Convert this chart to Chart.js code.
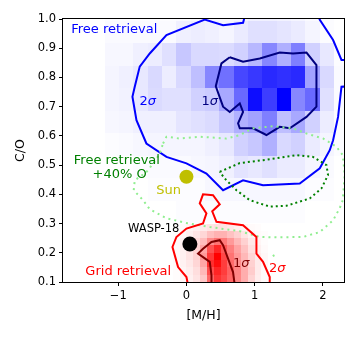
<!DOCTYPE html>
<html>
<head>
  <title>C/O vs [M/H]</title>
  <script src="https://cdn.jsdelivr.net/npm/chart.js"></script>
  <style>
    body { margin: 0; background: #fff; }
  </style>
</head>
<body>
<canvas id="chart" width="358" height="338"></canvas>
<script>
// tick positions
const xTicks = [-1, 0, 1, 2];
const yTicks = [0.1, 0.2, 0.3, 0.4, 0.5, 0.6, 0.7, 0.8, 0.9, 1.0];

// free retrieval posterior, 2D histogram (percent of peak)
const blueXEdges = [-1.197, -0.987, -0.777, -0.567, -0.357, -0.147, 0.063, 0.273, 0.483, 0.693, 0.903, 1.113, 1.323, 1.533, 1.743, 1.953, 2.163, 2.373];
const blueYEdges = [1.071, 0.994, 0.917, 0.840, 0.763, 0.686, 0.609, 0.532, 0.455, 0.378, 0.301];
const blueDensity = [
  [1, 1, 1, 1, 1, 2, 3, 3, 3, 4, 6, 6, 5, 4, 2, 1, 0],
  [2, 2, 2, 2, 2, 6, 7, 6, 4, 8, 12, 12, 10, 8, 4, 1, 0],
  [3, 3, 6, 7, 12, 22, 15, 15, 14, 18, 28, 47, 31, 50, 18, 9, 1],
  [4, 6, 9, 15, 7, 15, 25, 47, 56, 72, 78, 84, 81, 84, 37, 15, 2],
  [4, 5, 9, 14, 12, 12, 18, 20, 34, 59, 95, 76, 100, 47, 59, 12, 2],
  [3, 4, 6, 6, 6, 10, 12, 14, 22, 31, 37, 50, 25, 34, 18, 7, 1],
  [1, 2, 3, 4, 4, 4, 4, 6, 9, 18, 22, 31, 15, 18, 8, 4, 1],
  [0, 0, 1, 2, 2, 2, 3, 4, 6, 11, 9, 12, 8, 8, 4, 2, 0],
  [0, 0, 0, 1, 1, 1, 1, 3, 3, 3, 3, 3, 3, 3, 1, 1, 0],
  [0, 0, 0, 0, 0, 1, 1, 1, 1, 1, 1, 1, 1, 1, 0, 0, 0]
];

// grid retrieval posterior, 2D histogram (percent of peak)
const redXEdges = [-0.2, -0.1, 0.0, 0.1, 0.2, 0.3, 0.4, 0.5, 0.6, 0.7, 0.8, 0.9, 1.0, 1.1, 1.2];
const redYEdges = [0.3, 0.275, 0.25, 0.225, 0.2, 0.175, 0.15, 0.125, 0.1, 0.075];
const redDensity = [
  [1, 2, 4, 6, 8, 10, 12, 11, 9, 6, 4, 2, 1, 0],
  [1, 3, 6, 10, 16, 25, 30, 30, 24, 18, 10, 5, 2, 1],
  [2, 5, 9, 15, 26, 45, 55, 52, 40, 28, 18, 9, 4, 1],
  [2, 6, 11, 18, 35, 68, 85, 66, 50, 36, 24, 12, 6, 2],
  [2, 6, 11, 18, 40, 78, 100, 72, 55, 40, 28, 16, 8, 3],
  [2, 5, 9, 16, 35, 82, 95, 76, 58, 44, 30, 18, 8, 3],
  [1, 4, 7, 13, 28, 70, 86, 76, 62, 48, 32, 20, 8, 2],
  [1, 3, 6, 11, 22, 60, 80, 72, 60, 47, 32, 17, 7, 2],
  [0, 2, 5, 9, 18, 50, 70, 65, 52, 42, 27, 13, 5, 1]
];

// contour lines, [M/H], C/O pairs
const free2Sigma = [[0.88, 1.03], [0.83, 0.987], [0.537, 0.979], [0.268, 0.998], [-0.293, 0.945], [-0.538, 0.882], [-0.685, 0.837], [-0.758, 0.768], [-0.792, 0.734], [-0.733, 0.654], [-0.587, 0.574], [-0.293, 0.528], [0, 0.506], [0.293, 0.471], [0.537, 0.414], [0.83, 0.448], [1.123, 0.431], [1.661, 0.437], [1.955, 0.489], [2.101, 0.551], [2.15, 0.585], [2.223, 0.665], [2.273, 0.768], [2.4, 0.77], [2.4, 0.86], [2.273, 0.86], [2.15, 0.928], [1.955, 0.997], [1.9, 1.03]];
const free1Sigma = [[0.635, 0.869], [0.83, 0.854], [1.075, 0.865], [1.368, 0.885], [1.563, 0.882], [1.76, 0.885], [1.906, 0.842], [1.906, 0.7], [1.76, 0.665], [1.515, 0.626], [1.368, 0.631], [1.173, 0.603], [0.977, 0.626], [0.782, 0.626], [0.757, 0.643], [0.83, 0.682], [0.782, 0.711], [0.635, 0.682], [0.537, 0.7], [0.43, 0.77], [0.513, 0.848], [0.635, 0.869]];
const oxygen2Sigma = [[-0.343, 0.574], [-0.293, 0.597], [-0.098, 0.591], [0.195, 0.597], [0.587, 0.591], [0.782, 0.603], [0.977, 0.626], [1.27, 0.633], [1.563, 0.626], [1.76, 0.608], [2.003, 0.591], [2.199, 0.563], [2.292, 0.534], [2.321, 0.466], [2.292, 0.38], [2.248, 0.353], [2.15, 0.311], [1.955, 0.271], [1.71, 0.254], [1.32, 0.253], [1.075, 0.254], [0.782, 0.274], [0.342, 0.288], [0, 0.302], [-0.293, 0.318], [-0.538, 0.349], [-0.636, 0.38], [-0.773, 0.414], [-0.758, 0.448], [-0.587, 0.476], [-0.45, 0.517], [-0.392, 0.54], [-0.343, 0.574]];
const oxygen2SigmaIsland = [[1.27, 0.193], [1.31, 0.178]];
const oxygen1Sigma = [[0.488, 0.477], [0.782, 0.507], [1.123, 0.517], [1.613, 0.534], [1.856, 0.528], [2.053, 0.5], [2.076, 0.466], [1.979, 0.42], [1.808, 0.386], [1.466, 0.361], [1.221, 0.358], [0.928, 0.38], [0.733, 0.414], [0.562, 0.454], [0.488, 0.477]];
const grid2Sigma = [[0.023, 0.09], [0, 0.117], [-0.123, 0.151], [-0.205, 0.22], [-0.147, 0.254], [0, 0.283], [0.243, 0.3], [0.293, 0.335], [0.195, 0.369], [0.243, 0.4], [0.39, 0.397], [0.488, 0.366], [0.378, 0.342], [0.44, 0.306], [0.83, 0.294], [1.026, 0.254], [1.026, 0.197], [1.123, 0.169], [1.221, 0.117], [1.221, 0.09]];
const grid1Sigma = [[0.367, 0.09], [0.367, 0.123], [0.342, 0.169], [0.17, 0.197], [0.243, 0.214], [0.367, 0.237], [0.488, 0.243], [0.537, 0.226], [0.61, 0.18], [0.683, 0.134], [0.708, 0.09]];

// reference points
const sunPoint = [0, 0.46];
const waspPoint = [0.05, 0.23];

const font = 'DejaVu Sans';
const toXY = pts => pts.map(p => ({x: p[0], y: p[1]}));

function contour(pts, color, width, dash) {
  return {
    data: toXY(pts), showLine: true, pointRadius: 0, borderColor: color,
    borderWidth: width, borderDash: dash || [], tension: 0, clip: 0, fill: false
  };
}

function drawHist(chart, xe, ye, dens, rgb) {
  const {ctx, scales: {x, y}} = chart;
  for (let i = 0; i < dens.length; i++) {
    for (let j = 0; j < dens[i].length; j++) {
      const v = dens[i][j];
      if (!v) continue;
      const x0 = Math.round(x.getPixelForValue(xe[j]));
      const x1 = Math.round(x.getPixelForValue(xe[j + 1]));
      const y0 = Math.round(y.getPixelForValue(ye[i]));
      const y1 = Math.round(y.getPixelForValue(ye[i + 1]));
      ctx.fillStyle = 'rgba(' + rgb + ',' + (v / 100) + ')';
      ctx.fillRect(x0, y0, x1 - x0, y1 - y0);
    }
  }
}

const heatmap = {
  id: 'heatmap',
  beforeDatasetsDraw(chart) {
    const {ctx, chartArea: a} = chart;
    ctx.save();
    ctx.beginPath();
    ctx.rect(a.left, a.top, a.right - a.left, a.bottom - a.top);
    ctx.clip();
    drawHist(chart, blueXEdges, blueYEdges, blueDensity, '0,0,255');
    drawHist(chart, redXEdges, redYEdges, redDensity, '255,0,0');
    ctx.restore();
  }
};

// text labels in data coordinates
const labels = [
  {text: 'Free retrieval', at: [-1.69, 0.965], color: '#0000ff', align: 'left', size: 13},
  {text: 'Free retrieval', at: [-1.02, 0.515], color: '#008000', align: 'center', size: 13},
  {text: '+40% O', at: [-0.98, 0.466], color: '#008000', align: 'center', size: 13},
  {text: 'Sun', at: [-0.26, 0.414], color: '#bfbf00', align: 'center', size: 13},
  {text: 'WASP-18', at: [-0.48, 0.283], color: '#000000', align: 'center', size: 11.5},
  {text: 'Grid retrieval', at: [-0.853, 0.135], color: '#ff0000', align: 'center', size: 13}
];
const sigmaLabels = [
  {n: '2', at: [-0.567, 0.716], color: '#0000ff'},
  {n: '1', at: [0.342, 0.716], color: '#000080'},
  {n: '1', at: [0.803, 0.164], color: '#800000'},
  {n: '2', at: [1.331, 0.147], color: '#ff0000'}
];

const annotations = {
  id: 'annotations',
  afterDatasetsDraw(chart) {
    const {ctx, chartArea: a, scales: {x, y}} = chart;
    ctx.save();
    ctx.textBaseline = 'middle';
    labels.forEach(l => {
      ctx.font = l.size + 'px "' + font + '"';
      ctx.fillStyle = l.color;
      ctx.textAlign = l.align;
      ctx.fillText(l.text, x.getPixelForValue(l.at[0]), y.getPixelForValue(l.at[1]));
    });
    sigmaLabels.forEach(l => {
      const px = x.getPixelForValue(l.at[0]);
      const py = y.getPixelForValue(l.at[1]);
      ctx.fillStyle = l.color;
      ctx.textAlign = 'left';
      ctx.font = '13px "' + font + '"';
      const w1 = ctx.measureText(l.n).width;
      ctx.font = 'italic 13px "' + font + '"';
      const w2 = ctx.measureText('\u03c3').width;
      const left = px - (w1 + w2) / 2;
      ctx.font = '13px "' + font + '"';
      ctx.fillText(l.n, left, py);
      ctx.font = 'italic 13px "' + font + '"';
      ctx.fillText('\u03c3', left + w1, py);
    });
    // axes frame
    ctx.strokeStyle = '#000';
    ctx.lineWidth = 1;
    ctx.strokeRect(Math.round(a.left) - 0.5, Math.round(a.top) - 0.5,
      Math.round(a.right - a.left) + 1, Math.round(a.bottom - a.top) + 1);
    ctx.restore();
  }
};

new Chart(document.getElementById('chart'), {
  type: 'scatter',
  data: {
    datasets: [
      {data: toXY([waspPoint]), pointRadius: 7.5, pointBackgroundColor: '#000', pointBorderWidth: 0, clip: 0},
      {data: toXY([sunPoint]), pointRadius: 7, pointBackgroundColor: '#bfbf00', pointBorderWidth: 0, clip: 0},
      contour(grid1Sigma, '#800000', 2),
      contour(grid2Sigma, '#ff0000', 2),
      contour(oxygen1Sigma, '#008000', 2, [2, 3]),
      contour(oxygen2Sigma, '#90ee90', 2, [2, 4]),
      contour(oxygen2SigmaIsland, '#90ee90', 2, [2, 4]),
      contour(free1Sigma, '#000080', 2),
      contour(free2Sigma, '#0000ff', 2)
    ]
  },
  options: {
    responsive: false,
    animation: false,
    events: [],
    layout: {padding: {left: 0, right: 14, top: 19, bottom: 0}},
    plugins: {legend: {display: false}, tooltip: {enabled: false}},
    scales: {
      x: {
        type: 'linear', min: -1.81, max: 2.31,
        afterBuildTicks: s => { s.ticks = xTicks.map(v => ({value: v})); },
        afterFit: s => { s.height = 56; },
        border: {display: false},
        grid: {drawOnChartArea: false, tickLength: 4, tickColor: '#000'},
        ticks: {
          color: '#000', padding: 3, maxRotation: 0, font: {family: font, size: 11.5},
          callback: v => v < 0 ? '\u2212' + Math.abs(v) : String(v)
        },
        title: {display: true, text: '[M/H]', color: '#000', font: {family: font, size: 12.5}, padding: {top: 0, bottom: 15}}
      },
      y: {
        type: 'linear', min: 0.1, max: 1.0,
        afterBuildTicks: s => { s.ticks = yTicks.map(v => ({value: v})); },
        afterFit: s => { s.width = 63; },
        border: {display: false},
        grid: {drawOnChartArea: false, tickLength: 4, tickColor: '#000'},
        ticks: {
          color: '#000', padding: 3, font: {family: font, size: 11.5},
          callback: v => v.toFixed(1)
        },
        title: {display: true, text: 'C/O', color: '#000', font: {family: font, size: 12.5}, padding: {top: 13, bottom: 0}}
      }
    }
  },
  plugins: [heatmap, annotations]
});
</script>
</body>
</html>
